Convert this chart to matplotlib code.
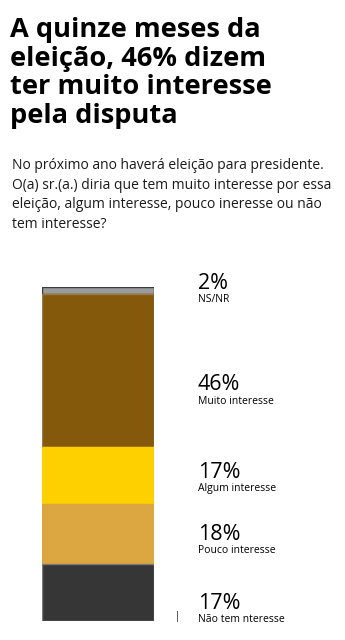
import matplotlib.pyplot as plt

# Survey answers, top to bottom of the stacked bar
categories = ['NS/NR', 'Muito interesse', 'Algum interesse', 'Pouco interesse', 'Não tem nteresse']
values = [2, 46, 17, 18, 17]
colors = ['#9b9b9b', '#85590b', '#ffd000', '#dca641', '#363636']
edges = ['#3a3a3a', '#9a7a40', '#ffd000', '#dca641', '#7a7a7a']
# baseline shift (px, downward) of each percentage from its segment's middle
nudges = [-1, 20, 2, 6, 16]

title = 'A quinze meses da\neleição, 46% dizem\nter muito interesse\npela disputa'
question = ('No próximo ano haverá eleição para presidente.\n'
            'O(a) sr.(a.) diria que tem muito interesse por essa\n'
            'eleição, algum interesse, pouco ineresse ou não\n'
            'tem interesse?')

W, H = 345, 640
PX = 0.72  # points per pixel at 100 dpi
fig = plt.figure(figsize=(W / 100, H / 100), dpi=100)
fig.patch.set_facecolor('white')

fig.text(10 / W, 1 - 17 / H, title, ha='left', va='top', fontsize=19.6,
         fontweight='bold', family='Open Sans', linespacing=1.13, color='black')
fig.text(12 / W, 1 - 158 / H, question, ha='left', va='top', fontsize=10,
         family='Open Sans', linespacing=1.42, color='#1a1a1a')

ax = fig.add_axes([42 / W, 1 - 621 / H, 112 / W, 334 / H])
ax.set_xlim(0, 1)
ax.set_ylim(sum(values), 0)
ax.axis('off')

bottom = 0
for cat, v, c, e, dy in zip(categories, values, colors, edges, nudges):
    ax.bar(0.5, v, bottom=bottom, width=1, color=c, edgecolor=e, linewidth=1)
    mid = bottom + v / 2
    ax.annotate(f'{v}%', xy=(198 / W, mid), xycoords=('figure fraction', 'data'),
                xytext=(0, -dy * PX), textcoords='offset points', ha='left',
                va='baseline', fontsize=15.5, family='Open Sans', color='black')
    ax.annotate(cat, xy=(198 / W, mid), xycoords=('figure fraction', 'data'),
                xytext=(0, -(dy + 13) * PX), textcoords='offset points', ha='left',
                va='baseline', fontsize=7.5, family='Open Sans', color='black')
    bottom += v

fig.text(175 / W, 1 - 616 / H, '|', ha='left', va='center', fontsize=7,
         family='Open Sans', color='black')

fig.savefig('out.png', dpi=100)
